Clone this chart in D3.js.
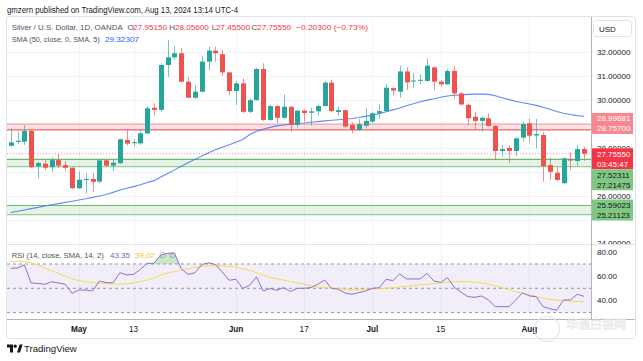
<!DOCTYPE html>
<html><head><meta charset="utf-8">
<script src="https://cdn.jsdelivr.net/npm/d3@7"></script>
<style>body{margin:0;background:#fff;} svg{display:block;font-family:"Liberation Sans",Arial,sans-serif;}</style>
</head><body>
<script>
// ---------- DATA ----------
const dates = [
"2024-04-17","2024-04-18","2024-04-19","2024-04-22","2024-04-23","2024-04-24","2024-04-25","2024-04-26","2024-04-29","2024-04-30",
"2024-05-01","2024-05-02","2024-05-03","2024-05-06","2024-05-07","2024-05-08","2024-05-09","2024-05-10","2024-05-13","2024-05-14",
"2024-05-15","2024-05-16","2024-05-17","2024-05-20","2024-05-21","2024-05-22","2024-05-23","2024-05-24","2024-05-27","2024-05-28",
"2024-05-29","2024-05-30","2024-05-31","2024-06-03","2024-06-04","2024-06-05","2024-06-06","2024-06-07","2024-06-10","2024-06-11",
"2024-06-12","2024-06-13","2024-06-14","2024-06-17","2024-06-18","2024-06-19","2024-06-20","2024-06-21","2024-06-24","2024-06-25",
"2024-06-26","2024-06-27","2024-06-28","2024-07-01","2024-07-02","2024-07-03","2024-07-04","2024-07-05","2024-07-08","2024-07-09",
"2024-07-10","2024-07-11","2024-07-12","2024-07-15","2024-07-16","2024-07-17","2024-07-18","2024-07-19","2024-07-22","2024-07-23",
"2024-07-24","2024-07-25","2024-07-26","2024-07-29","2024-07-30","2024-07-31","2024-08-01","2024-08-02","2024-08-05","2024-08-06",
"2024-08-07","2024-08-08","2024-08-09","2024-08-12","2024-08-13"];
const open = [
28.09,28.25,28.26,28.71,27.23,27.34,27.19,27.49,27.28,27.17,
26.31,26.68,26.70,26.59,27.48,27.26,27.36,28.33,28.22,28.19,
28.61,29.68,29.59,31.47,31.79,31.96,30.77,30.10,30.35,31.61,
32.07,31.92,31.16,30.38,30.70,29.51,30.00,31.30,29.17,29.75,
29.26,29.72,28.96,29.56,29.47,29.53,29.75,30.73,29.50,29.58,
28.96,28.75,28.93,29.10,29.45,29.54,30.50,30.35,31.20,30.78,
30.82,30.80,31.37,30.77,30.66,31.22,30.28,29.80,29.30,29.13,
29.24,28.92,27.87,28.00,27.87,28.43,29.03,28.52,28.54,27.28,
26.96,26.52,27.54,27.45,27.9515];
const high = [
28.82,28.68,28.96,28.75,27.42,27.49,27.60,27.77,27.45,27.18,
27.00,26.94,26.95,27.50,27.54,27.49,28.38,28.78,28.37,28.75,
29.75,29.87,31.54,32.51,32.26,32.19,30.95,30.63,31.85,32.23,
32.23,32.10,31.18,30.80,30.91,30.08,31.36,31.54,29.80,29.80,
30.24,29.75,29.59,29.59,29.68,29.80,30.80,30.84,29.72,29.60,
29.07,29.21,29.66,29.51,29.82,30.67,30.54,31.44,31.37,31.12,
31.08,31.75,31.40,30.84,31.29,31.43,30.33,29.85,29.51,29.30,
29.45,28.95,28.12,28.12,28.43,29.10,29.24,29.21,28.65,27.59,
27.21,27.60,27.82,28.10,28.056];
const low = [
28.05,28.15,28.12,27.15,26.73,27.08,27.00,27.15,27.03,26.30,
26.30,26.10,26.17,26.52,27.21,27.03,27.33,28.09,28.05,28.12,
28.57,29.35,29.51,30.98,31.68,30.74,30.08,30.05,30.33,31.26,
31.61,31.02,30.21,29.80,29.45,29.45,29.98,29.13,29.13,29.03,
29.21,28.68,28.85,29.10,28.93,29.35,29.73,29.49,29.35,28.85,
28.61,28.71,28.82,29.03,29.21,29.52,30.21,30.10,30.42,30.49,
30.67,30.77,30.42,30.56,30.64,30.05,29.77,28.92,28.75,28.68,
28.90,27.49,27.63,27.36,27.67,28.26,28.23,27.98,26.59,26.66,
26.61,26.50,27.08,27.26,27.455];
const close = [
28.23,28.30,28.71,27.19,27.37,27.17,27.49,27.26,27.17,26.31,
26.67,26.70,26.58,27.48,27.26,27.38,28.36,28.18,28.24,28.61,
29.66,29.59,31.47,31.79,31.96,30.77,30.10,30.35,31.61,32.07,
31.96,31.16,30.38,30.70,29.51,30.00,31.30,29.17,29.75,29.26,
29.72,28.96,29.56,29.46,29.53,29.75,30.73,29.54,29.58,28.89,
28.75,28.99,29.13,29.45,29.54,30.52,30.40,31.20,30.74,30.82,
30.85,31.44,30.77,30.66,31.22,30.28,29.82,29.24,29.13,29.26,
28.92,27.87,27.95,27.87,28.40,29.00,28.51,28.58,27.24,27.00,
26.66,27.56,27.47,27.95,27.7555];
const sma50 = [
25.30,25.35,25.40,25.46,25.51,25.57,25.62,25.67,25.72,25.77,
25.82,25.87,25.93,25.99,26.05,26.14,26.24,26.31,26.38,26.46,
26.55,26.63,26.78,26.93,27.08,27.23,27.38,27.52,27.66,27.80,
27.92,28.03,28.13,28.24,28.35,28.55,28.70,28.78,28.86,28.92,
28.96,28.99,29.02,29.04,29.07,29.10,29.13,29.16,29.18,29.20,
29.23,29.27,29.32,29.37,29.43,29.51,29.59,29.67,29.76,29.85,
29.93,30.00,30.06,30.12,30.17,30.20,30.22,30.24,30.25,30.25,
30.24,30.18,30.10,30.02,29.95,29.89,29.84,29.78,29.70,29.62,
29.52,29.45,29.40,29.35,29.32307];
const rsi = [
66.5,66.7,69.2,54.4,54.0,53.3,55.4,54.4,53.3,45.9,
48.6,48.6,47.8,56.0,54.6,54.6,62.8,61.0,61.5,65.6,
70.6,70.6,77.4,78.8,78.8,66.0,61.4,62.8,69.6,71.0,
69.6,63.5,56.6,57.4,49.8,52.5,59.4,47.8,49.8,48.4,
50.6,47.3,50.0,50.0,50.6,53.3,56.8,50.0,49.2,46.1,
45.1,46.4,47.8,50.0,50.5,57.4,56.3,61.8,57.7,57.7,
57.7,62.3,56.0,54.9,58.7,50.8,46.7,43.1,42.6,43.7,
40.4,34.9,34.9,34.9,40.4,46.4,43.7,43.1,34.9,33.2,
31.9,40.4,40.4,45.1,43.35];
const rsiSma = [
71.7,72.3,72.0,71.0,69.3,66.8,64.5,62.2,59.9,57.8,
56.3,55.3,54.7,54.2,53.9,53.5,53.4,53.8,54.3,55.5,
56.9,58.6,60.7,62.6,63.7,64.8,66.0,67.1,68.0,68.5,
68.6,68.4,68.1,67.5,66.1,64.7,62.8,60.7,59.0,57.9,
56.8,55.7,54.6,53.3,52.1,51.0,50.6,50.2,49.9,49.3,
48.7,48.8,49.2,49.5,49.7,50.0,50.5,51.0,51.6,52.1,
52.7,53.3,53.9,54.4,55.0,55.5,55.5,55.5,55.0,54.3,
53.4,51.9,50.4,48.8,47.3,45.9,44.6,43.1,42.0,41.0,
40.2,39.8,39.4,39.2,39.02];
const priceTicks = [24,25,26,27,28,29,30,31,32];
const rsiTicks = [40,60,80];
const rsiLevels = [30,50,70];
const timeTickDates = ["2024-05-01","2024-05-13","2024-06-03","2024-06-17","2024-07-01","2024-07-15","2024-08-01"];
const timeTickLabels = ["May","13","Jun","17","Jul","15","Aug"];
const timeTickMonth = [true,false,true,false,true,false,true];
const zoneRed = [28.75700, 28.99681];
const zoneGreen1 = [27.21475, 27.52311];
const zoneGreen2 = [25.21123, 25.59023];
const lastPrice = 27.75550;
const countdown = "03:45:47";
const ohlcText = ["27.95150","28.05600","27.45500","27.75550"];
const changeText = "\u22120.20300 (\u22120.73%)";
const smaLastText = "29.32307";
const rsiLastText = "43.35", rsiSmaLastText = "39.02";

// ---------- LAYOUT ----------
const W = 643, H = 361;
const L = 7, R = 635, T = 17, B = 338, AX = 591;
const pTop = 17, pBot = 244, rTop = 245, rBot = 319;
const UP = "#26a69a", DN = "#ef5350";

const svg = d3.select("body").append("svg").attr("width", W).attr("height", H);
svg.append("rect").attr("width", W).attr("height", H).attr("fill", "#fff");

const x = d3.scalePoint().domain(dates).range([10.7, 584]);
const y = d3.scaleLinear().domain([24, 32]).range([243.5, 52.3]);
const yr = d3.scaleLinear().domain([30, 70]).range([312.6, 264.0]);
const idx = d3.range(dates.length);

const defs = svg.append("defs");
defs.append("clipPath").attr("id","pclip").append("rect").attr("x",L).attr("y",pTop).attr("width",AX-L).attr("height",pBot-pTop);
defs.append("clipPath").attr("id","rclip").append("rect").attr("x",L).attr("y",rTop).attr("width",AX-L).attr("height",rBot-rTop);
defs.append("clipPath").attr("id","obclip").append("rect").attr("x",L).attr("y",rTop).attr("width",AX-L).attr("height",yr(70)-rTop);

// grid
const grid = svg.append("g").attr("stroke","#f0f3fa").attr("stroke-width",1);
priceTicks.forEach(v => grid.append("line").attr("x1",L).attr("x2",AX).attr("y1",Math.round(y(v))+0.5).attr("y2",Math.round(y(v))+0.5).attr("clip-path","url(#pclip)"));
timeTickDates.forEach(d => {
  const xx = Math.round(x(d))+0.5;
  grid.append("line").attr("x1",xx).attr("x2",xx).attr("y1",pTop).attr("y2",pBot);
  grid.append("line").attr("x1",xx).attr("x2",xx).attr("y1",rTop).attr("y2",rBot);
});

// zones
const pg = svg.append("g").attr("clip-path","url(#pclip)");
function zone(vals, fill, c1, c2){
  const y1 = y(vals[1]), y0 = y(vals[0]);
  pg.append("rect").attr("x",L).attr("width",AX-L).attr("y",y1).attr("height",y0-y1).attr("fill",fill);
  pg.append("line").attr("x1",L).attr("x2",AX).attr("y1",y1).attr("y2",y1).attr("stroke",c1).attr("stroke-width",1.2);
  pg.append("line").attr("x1",L).attr("x2",AX).attr("y1",y0).attr("y2",y0).attr("stroke",c2).attr("stroke-width",1.2);
}
zone(zoneRed, "rgba(242,54,69,0.15)", "#f7a5ab", "#f0636d");
zone(zoneGreen1, "rgba(76,175,80,0.14)", "#66bb6a", "#8fd093");
zone(zoneGreen2, "rgba(76,175,80,0.14)", "#66bb6a", "#8fd093");

// current price line
pg.append("line").attr("x1",L).attr("x2",AX).attr("y1",y(lastPrice)).attr("y2",y(lastPrice))
  .attr("stroke","#f23645").attr("stroke-opacity",0.55).attr("stroke-dasharray","1,2");

// SMA
pg.append("path").datum(idx).attr("fill","none").attr("stroke","#2962ff").attr("stroke-opacity",0.75).attr("stroke-width",1.1)
  .attr("d", d3.line().x(i => x(dates[i])).y(i => y(sma50[i])));

// candles
const cg = pg.append("g");
idx.forEach(i => {
  const cx = Math.round(x(dates[i]));
  const up = close[i] >= open[i];
  const col = up ? UP : DN;
  cg.append("line").attr("x1",cx+0.5).attr("x2",cx+0.5).attr("y1",y(high[i])).attr("y2",y(low[i]))
    .attr("stroke",col).attr("stroke-opacity",0.65);
  const yt = y(Math.max(open[i],close[i])), yb = y(Math.min(open[i],close[i]));
  cg.append("rect").attr("x",cx-2).attr("width",5).attr("y",yt).attr("height",Math.max(1,yb-yt)).attr("fill",col);
});

// RSI pane
const rg = svg.append("g").attr("clip-path","url(#rclip)");
rg.append("rect").attr("x",L).attr("width",AX-L).attr("y",yr(70)).attr("height",yr(30)-yr(70)).attr("fill","rgba(126,87,194,0.1)");
rsiLevels.forEach(v => rg.append("line").attr("x1",L).attr("x2",AX).attr("y1",yr(v)).attr("y2",yr(v))
  .attr("stroke","#9598a1").attr("stroke-dasharray","3,3"));
rg.append("path").datum(idx).attr("clip-path","url(#obclip)").attr("fill","rgba(76,175,80,0.3)")
  .attr("d", d3.area().x(i => x(dates[i])).y0(yr(70)).y1(i => yr(rsi[i])));
rg.append("path").datum(idx).attr("fill","none").attr("stroke","#f7dc4a").attr("stroke-width",1)
  .attr("d", d3.line().x(i => x(dates[i])).y(i => yr(rsiSma[i])));
rg.append("path").datum(idx).attr("fill","none").attr("stroke","#8e6fd1").attr("stroke-width",1)
  .attr("d", d3.line().x(i => x(dates[i])).y(i => yr(rsi[i])));

// frame & axes lines
const fl = svg.append("g").attr("stroke","#e0e3eb").attr("fill","none");
fl.append("rect").attr("x",L-0.5).attr("y",T-0.5).attr("width",R-L+1).attr("height",B-T+1).attr("rx",3);
fl.append("line").attr("x1",L).attr("x2",R).attr("y1",pBot+0.5).attr("y2",pBot+0.5);
svg.append("line").attr("x1",L).attr("x2",R).attr("y1",rBot+0.5).attr("y2",rBot+0.5).attr("stroke","#b2b5be");
svg.append("line").attr("x1",AX+0.5).attr("x2",AX+0.5).attr("y1",T).attr("y2",rBot).attr("stroke","#b2b5be");

// price axis tag layout
const LH = 10, FS = 8;
const tags = [];
function addTag(lines, top, fill, tcol){ const h = lines.length*LH + 1; tags.push({lines, top, h, fill, tcol}); return top + h; }
addTag([zoneRed[1].toFixed(5), zoneRed[0].toFixed(5)], (y(zoneRed[1])+y(zoneRed[0]))/2 - 3.5 - (2*LH+1)/2, "#f7888f", "#fff");
let bottom = addTag([lastPrice.toFixed(5), countdown], y(lastPrice) - LH/2 - 0.5, "#f23645", "#fff");
addTag([zoneGreen1[1].toFixed(5), zoneGreen1[0].toFixed(5)], bottom, "#81c784", "#131722");
addTag([zoneGreen2[1].toFixed(5), zoneGreen2[0].toFixed(5)], (y(zoneGreen2[1])+y(zoneGreen2[0]))/2 - (2*LH+1)/2, "#81c784", "#131722");

// price axis tick labels (skip those hidden under tags; clip partly covered)
const axg = svg.append("g").attr("font-size",FS).attr("fill","#131722");
priceTicks.forEach(v => {
  const yc = y(v);
  if (tags.some(t => yc >= t.top && yc <= t.top + t.h)) return;
  const over = tags.find(t => yc < t.top && yc + 4 > t.top);
  const tx = axg.append("text").attr("x",597).attr("y",yc).attr("dy","0.35em").text(v.toFixed(5));
  if (over) {
    const id = "tc" + v;
    defs.append("clipPath").attr("id",id).append("rect").attr("x",AX).attr("y",yc-6).attr("width",R-AX).attr("height",over.top-(yc-6));
    tx.attr("clip-path","url(#"+id+")");
  }
  if (yc + 4 > pBot) {
    defs.append("clipPath").attr("id","tcb").append("rect").attr("x",AX).attr("y",yc-6).attr("width",R-AX).attr("height",pBot-(yc-6));
    tx.attr("clip-path","url(#tcb)");
  }
});
tags.forEach(t => {
  svg.append("rect").attr("x",AX+1).attr("y",t.top).attr("width",R-AX-3).attr("height",t.h).attr("fill",t.fill);
  t.lines.forEach((s,k) => svg.append("text").attr("x",597).attr("y",t.top+0.5+LH*k+LH/2).attr("dy","0.35em")
    .attr("font-size",FS).attr("fill",t.tcol).text(s));
});

// USD box
svg.append("rect").attr("x",593.5).attr("y",20.5).attr("width",38).attr("height",16).attr("rx",3).attr("fill","#fff").attr("stroke","#e0e3eb");
svg.append("text").attr("x",599).attr("y",28.7).attr("dy","0.35em").attr("font-size",8).attr("fill","#131722").text("USD");

// RSI axis labels
rsiTicks.forEach(v => svg.append("text").attr("x",597).attr("y",yr(v)).attr("dy","0.35em").attr("font-size",FS).attr("fill","#131722").text(v.toFixed(2)));

// time axis labels
timeTickDates.forEach((d,k) => svg.append("text").attr("x",x(d)).attr("y",329).attr("dy","0.35em").attr("text-anchor","middle")
  .attr("font-size",8.2).attr("font-weight", timeTickMonth[k] ? "bold" : "normal").attr("fill","#131722").text(timeTickLabels[k]));

// header
svg.append("text").attr("x",7).attr("y",10).attr("dy","0.35em").attr("font-size",8.3).attr("fill","#131722")
  .attr("textLength",231).attr("lengthAdjust","spacingAndGlyphs")
  .text("gmzern published on TradingView.com, Aug 13, 2024 13:14 UTC-4");

// legends
const lg = svg.append("g").attr("font-size",8);
function lt(xx, yy, t, c, len){
  const e = lg.append("text").attr("x",xx).attr("y",yy).attr("dy","0.35em").attr("fill",c).text(t);
  if (len) e.attr("textLength",len).attr("lengthAdjust","spacingAndGlyphs");
  return e;
}
const red = "#f23645";
lt(11.7, 26.7, "Silver / U.S. Dollar, 1D, OANDA", "#50535e", 111);
[["O",127.5],["H",169.3],["L",211.7],["C",251.5]].forEach((p,k) => {
  lt(p[1], 26.7, p[0], "#50535e");
  lt(p[1] + (p[0]==="L" ? 4.3 : 5.6), 26.7, ohlcText[k], red, 34);
});
lt(296, 26.7, changeText, red, 72);
lt(11.7, 39, "SMA (50, close, 0, SMA, 5)", "#50535e", 88);
lt(105, 39, smaLastText, "#2962ff", 34);
lt(11.7, 255, "RSI (14, close, SMA, 14, 2)", "#50535e", 92);
lt(110, 255, rsiLastText, "#7e57c2", 20);
lt(135, 255, rsiSmaLastText, "#f5c518", 20);
lt(159, 255, "\u2205", "#9598a1");
lt(169, 255, "\u2205", "#9598a1");

// TradingView logo
const lo = svg.append("g").attr("fill","#131722");
lo.append("path").attr("d","M7 344.5 h6 v8 h-3 v-5 h-3 z");
lo.append("circle").attr("cx",15.2).attr("cy",346.2).attr("r",1.6);
lo.append("path").attr("d","M17 352.5 L19.6 344.5 H22.6 L20 352.5 Z");
svg.append("text").attr("x",24).attr("y",348.5).attr("dy","0.35em").attr("font-size",9.6).attr("fill","#131722").text("TradingView");

// watermark
const wm = svg.append("g").attr("opacity",0.8);
wm.append("circle").attr("cx",547).attr("cy",329).attr("r",12.5).attr("fill","none").attr("stroke","#e3e6ec").attr("stroke-width",1.5);
wm.append("text").attr("x",566).attr("y",325).attr("dy","0.35em").attr("font-size",12).attr("font-family","Noto Sans CJK SC")
  .attr("fill","#fff").attr("stroke","#dfe2e8").attr("stroke-width",0.6).text("华通白银网");
</script>
</body></html>
